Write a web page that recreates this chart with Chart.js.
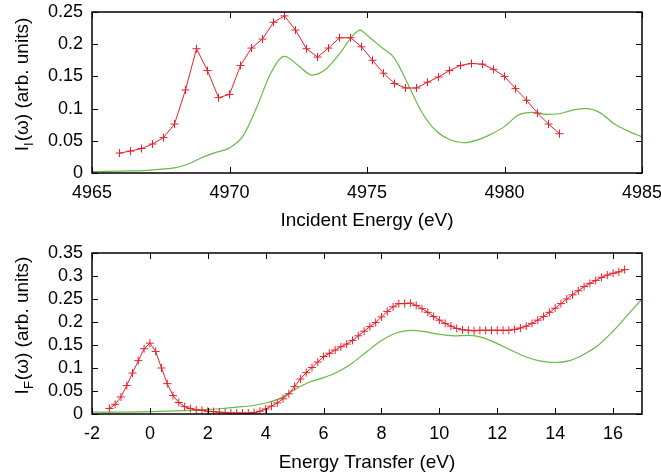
<!DOCTYPE html>
<html>
<head>
<meta charset="utf-8">
<script src="https://cdn.jsdelivr.net/npm/chart.js@4"></script>
<style>
  body { margin: 0; background: #fff; }
  #caja { position: relative; width: 661px; height: 476px; }
  canvas { position: absolute; left: 0; }
</style>
</head>
<body>
<div id="caja">
  <canvas id="graficaIncidente" width="661" height="238" style="top:0"></canvas>
  <canvas id="graficaTransfer" width="661" height="238" style="top:238px"></canvas>
</div>
<script>
// panel superior: energia incidente
let incidenteX = [4966.0, 4966.4, 4966.8, 4967.2, 4967.6, 4968.0, 4968.4, 4968.8, 4969.2, 4969.6,
	4970.0, 4970.4, 4970.8, 4971.2, 4971.6, 4972.0, 4972.4, 4972.8, 4973.2, 4973.6,
	4974.0, 4974.4, 4974.8, 4975.2, 4975.6, 4976.0, 4976.4, 4976.8, 4977.2, 4977.6,
	4978.0, 4978.4, 4978.8, 4979.2, 4979.6, 4980.0, 4980.4, 4980.8, 4981.2, 4981.6, 4982.0];
let incidenteExp = [0.031, 0.034, 0.038, 0.045, 0.055, 0.076, 0.129, 0.193, 0.159, 0.117,
	0.122, 0.167, 0.194, 0.208, 0.234, 0.244, 0.222, 0.193, 0.180, 0.194,
	0.210, 0.210, 0.196, 0.175, 0.155, 0.139, 0.132, 0.132, 0.141, 0.149,
	0.159, 0.167, 0.170, 0.169, 0.161, 0.150, 0.131, 0.113, 0.093, 0.076, 0.061];
let incidenteTeoX = [4965.0, 4966.0, 4967.0, 4967.5, 4968.0, 4968.5, 4969.0, 4969.5, 4970.0, 4970.5,
	4971.0, 4971.5, 4972.0, 4972.5, 4973.0, 4973.5, 4974.0, 4974.5, 4974.75, 4975.0,
	4975.5, 4976.0, 4976.5, 4977.0, 4977.5, 4978.0, 4978.5, 4979.0, 4979.5, 4980.0,
	4980.5, 4981.0, 4981.5, 4982.0, 4982.5, 4983.0, 4983.5, 4984.0, 4984.5, 4985.0];
let incidenteTeo = [0.002, 0.003, 0.004, 0.006, 0.008, 0.014, 0.024, 0.032, 0.039, 0.058,
	0.103, 0.155, 0.181, 0.167, 0.152, 0.161, 0.185, 0.214, 0.222, 0.214,
	0.196, 0.178, 0.137, 0.094, 0.066, 0.052, 0.047, 0.051, 0.060, 0.072,
	0.090, 0.094, 0.091, 0.092, 0.098, 0.100, 0.093, 0.076, 0.065, 0.056];

// panel inferior: energia transferida
let transferX = [-1.4, -1.2, -1.0, -0.8, -0.6, -0.4, -0.2, 0.0, 0.2, 0.4,
	0.6, 0.8, 1.0, 1.2, 1.4, 1.6, 1.8, 2.0, 2.2, 2.4,
	2.6, 2.8, 3.0, 3.2, 3.4, 3.6, 3.8, 4.0, 4.2, 4.4,
	4.6, 4.8, 5.0, 5.2, 5.4, 5.6, 5.8, 6.0, 6.2, 6.4,
	6.6, 6.8, 7.0, 7.2, 7.4, 7.6, 7.8, 8.0, 8.2, 8.4,
	8.6, 8.8, 9.0, 9.2, 9.4, 9.6, 9.8, 10.0, 10.2, 10.4,
	10.6, 10.8, 11.0, 11.2, 11.4, 11.6, 11.8, 12.0, 12.2, 12.4,
	12.6, 12.8, 13.0, 13.2, 13.4, 13.6, 13.8, 14.0, 14.2, 14.4,
	14.6, 14.8, 15.0, 15.2, 15.4, 15.6, 15.8, 16.0, 16.2, 16.4];
let transferExp = [0.012, 0.021, 0.037, 0.062, 0.089, 0.116, 0.142, 0.154, 0.136, 0.100,
	0.066, 0.040, 0.025, 0.016, 0.012, 0.009, 0.008, 0.006, 0.005, 0.004,
	0.003, 0.002, 0.002, 0.002, 0.002, 0.003, 0.006, 0.011, 0.017, 0.024,
	0.033, 0.044, 0.060, 0.076, 0.090, 0.101, 0.113, 0.125, 0.132, 0.139,
	0.146, 0.152, 0.160, 0.170, 0.180, 0.190, 0.199, 0.211, 0.223, 0.233,
	0.240, 0.240, 0.241, 0.236, 0.229, 0.221, 0.212, 0.204, 0.197, 0.191,
	0.186, 0.183, 0.182, 0.181, 0.182, 0.182, 0.182, 0.182, 0.182, 0.182,
	0.184, 0.187, 0.191, 0.197, 0.204, 0.212, 0.221, 0.230, 0.240, 0.250,
	0.259, 0.268, 0.277, 0.284, 0.290, 0.297, 0.302, 0.306, 0.309, 0.314];
let transferTeoX = [-2.0, -1.0, 0.0, 1.0, 2.0, 2.5, 3.0, 3.5, 4.0, 4.5,
	5.0, 5.5, 6.0, 6.5, 7.0, 7.5, 8.0, 8.5, 9.0, 9.5,
	10.0, 10.5, 11.0, 11.5, 12.0, 12.5, 13.0, 13.5, 14.0, 14.5,
	15.0, 15.5, 16.0, 16.5, 17.0];
let transferTeo = [0.004, 0.004, 0.005, 0.007, 0.010, 0.012, 0.015, 0.018, 0.024, 0.034,
	0.053, 0.069, 0.079, 0.092, 0.111, 0.136, 0.160, 0.176, 0.182, 0.179,
	0.173, 0.170, 0.171, 0.166, 0.153, 0.138, 0.124, 0.115, 0.112, 0.116,
	0.130, 0.150, 0.180, 0.215, 0.250];

const ROJO = '#e8202c';
const VERDE = '#66bb44';
const FUENTE = '"Liberation Sans", Arial, Helvetica, sans-serif';

Chart.defaults.font.family = FUENTE;
Chart.defaults.color = '#000';

function puntos(xs, ys) {
	let p = new Array();
	for (let i = 0; i < xs.length; i++) {
		p.push({ x: xs[i], y: ys[i] });
	}
	return p;
}

// marco cerrado con marcas hacia dentro (estilo gnuplot) + titulo Y con subindice
const marcoGnuplot = {
	id: 'marcoGnuplot',
	afterDraw(chart, args, opts) {
		const ctx = chart.ctx;
		const a = chart.chartArea;
		const sx = chart.scales.x;
		const sy = chart.scales.y;
		ctx.save();
		ctx.strokeStyle = '#000';
		ctx.lineWidth = 1;
		ctx.beginPath();
		sx.ticks.forEach(t => {
			const px = Math.round(sx.getPixelForValue(t.value)) + 0.5;
			ctx.moveTo(px, a.bottom); ctx.lineTo(px, a.bottom - 6);
			ctx.moveTo(px, a.top); ctx.lineTo(px, a.top + 6);
		});
		sy.ticks.forEach(t => {
			const py = Math.round(sy.getPixelForValue(t.value)) + 0.5;
			ctx.moveTo(a.left, py); ctx.lineTo(a.left + 6, py);
			ctx.moveTo(a.right, py); ctx.lineTo(a.right - 6, py);
		});
		ctx.stroke();
		ctx.lineWidth = 1.5;
		ctx.strokeRect(a.left, a.top, a.right - a.left, a.bottom - a.top);

		// I_sub(ω) (arb. units), girado
		const cy = (a.top + a.bottom) / 2 + opts.desplazamiento;
		ctx.translate(28, cy);
		ctx.rotate(-Math.PI / 2);
		ctx.fillStyle = '#000';
		ctx.textBaseline = 'alphabetic';
		ctx.textAlign = 'left';
		const grande = '19px ' + FUENTE;
		const chica = '13px ' + FUENTE;
		ctx.font = grande;
		const w1 = ctx.measureText('I').width;
		const w3 = ctx.measureText('(ω) (arb. units)').width;
		ctx.font = chica;
		const w2 = ctx.measureText(opts.sub).width + 1;
		let x0 = -(w1 + w2 + w3) / 2;
		ctx.font = grande;
		ctx.fillText('I', x0, 0);
		ctx.font = chica;
		ctx.fillText(opts.sub, x0 + w1, 5);
		ctx.font = grande;
		ctx.fillText('(ω) (arb. units)', x0 + w1 + w2, 0);
		ctx.restore();
	}
};

function crearGrafica(id, cfg) {
	return new Chart(document.getElementById(id), {
		type: 'line',
		data: {
			datasets: [{
				data: puntos(cfg.expX, cfg.exp),
				borderColor: ROJO,
				borderWidth: 1,
				pointStyle: 'cross',
				pointRadius: 4,
				pointBorderColor: ROJO,
				pointBorderWidth: 1,
				tension: 0
			}, {
				data: puntos(cfg.teoX, cfg.teo),
				borderColor: VERDE,
				borderWidth: 1.2,
				pointRadius: 0,
				cubicInterpolationMode: 'monotone'
			}]
		},
		options: {
			responsive: false,
			animation: false,
			devicePixelRatio: 1,
			layout: { padding: { top: cfg.arriba, right: 19, left: 0, bottom: 0 } },
			plugins: {
				legend: { display: false },
				tooltip: { enabled: false },
				marcoGnuplot: { sub: cfg.sub, desplazamiento: -8 }
			},
			scales: {
				x: {
					type: 'linear',
					min: cfg.xMin,
					max: cfg.xMax,
					grid: { display: false, drawTicks: false },
					border: { display: false },
					ticks: {
						stepSize: cfg.xPaso,
						includeBounds: false,
						autoSkip: false,
						maxRotation: 0,
						padding: 9,
						font: { size: 18 },
						color: '#000',
						callback: v => String(v)
					},
					title: {
						display: true,
						text: cfg.tituloX,
						font: { size: 19 },
						color: '#000',
						padding: { top: 0, bottom: cfg.tituloAbajo }
					},
					afterFit: s => {
						s.height = cfg.altoX;
						s.paddingLeft = 0;
						s.paddingRight = 0;
					}
				},
				y: {
					min: 0,
					max: cfg.yMax,
					grid: { display: false, drawTicks: false },
					border: { display: false },
					ticks: {
						stepSize: 0.05,
						autoSkip: false,
						padding: 9,
						font: { size: 18 },
						color: '#000',
						callback: v => String(+v.toFixed(3))
					},
					afterFit: s => {
						s.width = 92;
						s.paddingTop = 0;
						s.paddingBottom = 0;
					}
				}
			}
		},
		plugins: [marcoGnuplot]
	});
}

crearGrafica('graficaIncidente', {
	expX: incidenteX, exp: incidenteExp,
	teoX: incidenteTeoX, teo: incidenteTeo,
	xMin: 4965, xMax: 4985, xPaso: 5, yMax: 0.25,
	tituloX: 'Incident Energy (eV)', sub: 'I',
	arriba: 12, altoX: 65, tituloAbajo: 6
});

crearGrafica('graficaTransfer', {
	expX: transferX, exp: transferExp,
	teoX: transferTeoX, teo: transferTeo,
	xMin: -2, xMax: 17, xPaso: 2, yMax: 0.35,
	tituloX: 'Energy Transfer (eV)', sub: 'F',
	arriba: 15, altoX: 62, tituloAbajo: 2
});
</script>
</body>
</html>
